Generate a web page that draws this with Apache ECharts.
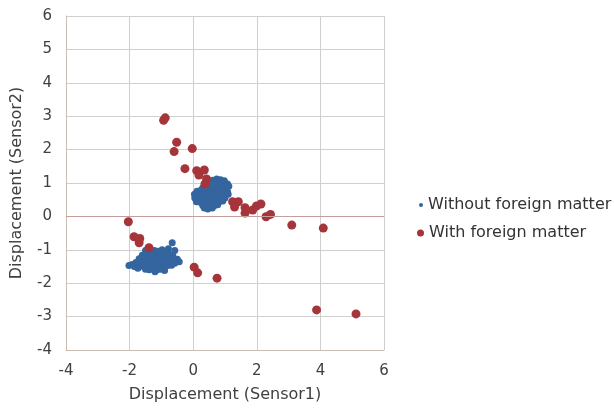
<!DOCTYPE html>
<html>
<head>
<meta charset="utf-8">
<script src="https://cdn.jsdelivr.net/npm/echarts@6/dist/echarts.min.js"></script>
<style>
  html, body { margin: 0; padding: 0; background: #fff; }
  #chart { width: 614px; height: 414px; }
</style>
</head>
<body>
<div id="chart"></div>
<script>
// axis ticks
const xTicks = [-4, -2, 0, 2, 4, 6]
const yTicks = [-4, -3, -2, -1, 0, 1, 2, 3, 4, 5, 6]

// series names
const seriesNames = ['Without foreign matter', 'With foreign matter']

// without foreign matter: two dense clusters
const withoutUpper = [
  [0.62, 1.08], [0.74, 1.12], [0.86, 1.10], [0.98, 1.07], [0.55, 1.04],
  [0.45, 0.97], [0.58, 0.99], [0.70, 1.00], [0.83, 0.98], [0.95, 1.00], [1.08, 0.97],
  [0.30, 0.86], [0.42, 0.88], [0.54, 0.87], [0.66, 0.89], [0.78, 0.86], [0.90, 0.88], [1.02, 0.86], [1.12, 0.90],
  [0.12, 0.75], [0.24, 0.78], [0.36, 0.76], [0.48, 0.77], [0.60, 0.75], [0.72, 0.78], [0.84, 0.76], [0.96, 0.77], [1.08, 0.74],
  [0.04, 0.66], [0.16, 0.64], [0.28, 0.66], [0.40, 0.65], [0.52, 0.67], [0.64, 0.64], [0.76, 0.66], [0.88, 0.65], [1.00, 0.63], [1.10, 0.66],
  [0.05, 0.55], [0.17, 0.53], [0.29, 0.55], [0.41, 0.54], [0.53, 0.56], [0.65, 0.53], [0.77, 0.55], [0.89, 0.54], [1.00, 0.55],
  [0.10, 0.44], [0.22, 0.42], [0.34, 0.44], [0.46, 0.43], [0.58, 0.45], [0.70, 0.42], [0.82, 0.44], [0.93, 0.46],
  [0.30, 0.33], [0.42, 0.32], [0.54, 0.34], [0.66, 0.32], [0.77, 0.35],
  [0.46, 0.22], [0.60, 0.25], [0.35, 0.25]
]
const withoutLower = [
  [-2.02, -1.47], [-1.92, -1.44], [-1.85, -1.50], [-1.80, -1.38], [-1.72, -1.46], [-1.74, -1.55],
  [-1.35, -1.06], [-1.22, -1.02], [-1.10, -1.04], [-0.98, -1.00], [-0.88, -1.06], [-0.78, -0.97],
  [-1.60, -1.16], [-1.48, -1.14], [-1.36, -1.17], [-1.24, -1.13], [-1.12, -1.16], [-1.00, -1.12], [-0.88, -1.15], [-0.76, -1.13], [-0.64, -1.18],
  [-1.70, -1.27], [-1.58, -1.25], [-1.46, -1.27], [-1.34, -1.24], [-1.22, -1.27], [-1.10, -1.25], [-0.98, -1.28], [-0.86, -1.24], [-0.74, -1.26], [-0.62, -1.25], [-0.50, -1.28],
  [-1.66, -1.36], [-1.54, -1.38], [-1.42, -1.35], [-1.30, -1.38], [-1.18, -1.36], [-1.06, -1.39], [-0.94, -1.36], [-0.82, -1.38], [-0.70, -1.35], [-0.58, -1.40], [-0.44, -1.36],
  [-1.64, -1.49], [-1.52, -1.47], [-1.40, -1.50], [-1.28, -1.47], [-1.16, -1.49], [-1.04, -1.48], [-0.92, -1.50], [-0.80, -1.47], [-0.68, -1.46],
  [-1.50, -1.58], [-1.38, -1.60], [-1.26, -1.57], [-1.14, -1.60], [-1.02, -1.58], [-0.90, -1.62], [-1.20, -1.66],
  [-0.66, -0.79], [-0.58, -1.02], [-1.50, -1.02]
]

// with foreign matter
const withPoints = [
  [-0.93, 2.88], [-0.88, 2.95], [-0.52, 2.22], [-0.60, 1.94], [-0.03, 2.03],
  [-0.26, 1.43], [0.11, 1.37], [0.18, 1.24], [0.35, 1.39], [0.42, 1.12], [0.37, 0.97],
  [1.24, 0.44], [1.42, 0.44], [1.30, 0.28], [1.63, 0.26], [1.63, 0.10], [1.87, 0.19],
  [1.99, 0.31], [2.13, 0.37], [2.29, -0.01], [2.43, 0.06], [3.10, -0.26], [4.09, -0.35],
  [-2.04, -0.16], [-1.86, -0.61], [-1.68, -0.66], [-1.70, -0.79], [-1.39, -0.94],
  [0.03, -1.52], [0.14, -1.69], [0.75, -1.85], [3.88, -2.80], [5.12, -2.92]
]

const colorTheme = {
  blue: '#35659f',
  red: '#a5353a',
  text: '#404040',
  grid: '#cfcfcf',
  axis: '#c9bdb4',
  zero: '#c79e9e'
}

const chart = echarts.init(document.getElementById('chart'))

const axisFont = { fontFamily: 'DejaVu Sans', fontSize: 15, color: colorTheme.text }

chart.setOption({
  animation: false,
  grid: { left: 66, right: 230, top: 16, bottom: 64 },
  legend: [
    {
      data: [seriesNames[0]],
      left: 414, top: 192,
      icon: 'circle', itemWidth: 4, itemHeight: 4, itemGap: 6,
      itemStyle: { opacity: 1 },
      textStyle: { fontFamily: 'DejaVu Sans', fontSize: 16, color: '#333' }
    },
    {
      data: [seriesNames[1]],
      left: 412, top: 220,
      icon: 'circle', itemWidth: 7, itemHeight: 7, itemGap: 6,
      itemStyle: { opacity: 1 },
      textStyle: { fontFamily: 'DejaVu Sans', fontSize: 16, color: '#333' }
    }
  ],
  xAxis: {
    type: 'value',
    min: xTicks[0], max: xTicks[xTicks.length - 1], interval: 2,
    name: 'Displacement (Sensor1)',
    nameLocation: 'middle', nameGap: 37,
    nameTextStyle: { fontFamily: 'DejaVu Sans', fontSize: 16, color: colorTheme.text },
    axisLine: { onZero: false, lineStyle: { color: colorTheme.axis } },
    axisTick: { show: false },
    axisLabel: { ...axisFont, margin: 14 },
    splitLine: { lineStyle: { color: colorTheme.grid } }
  },
  yAxis: {
    type: 'value',
    min: yTicks[0], max: yTicks[yTicks.length - 1], interval: 1,
    name: 'Displacement (Sensor2)',
    nameLocation: 'middle', nameGap: 41,
    nameTextStyle: { fontFamily: 'DejaVu Sans', fontSize: 16, color: colorTheme.text },
    axisLine: { show: true, onZero: false, lineStyle: { color: colorTheme.axis } },
    axisTick: { show: false },
    axisLabel: { ...axisFont, margin: 14 },
    splitLine: { lineStyle: { color: colorTheme.grid } }
  },
  series: [
    {
      name: seriesNames[0],
      type: 'scatter',
      symbolSize: 7,
      itemStyle: { color: colorTheme.blue, opacity: 1 },
      data: withoutUpper.concat(withoutLower),
      markLine: {
        silent: true,
        symbol: 'none',
        label: { show: false },
        lineStyle: { color: colorTheme.zero, type: 'solid', width: 1 },
        data: [{ yAxis: 0 }]
      }
    },
    {
      name: seriesNames[1],
      type: 'scatter',
      symbolSize: 9,
      itemStyle: { color: colorTheme.red, opacity: 1 },
      data: withPoints
    }
  ]
})
</script>
</body>
</html>
